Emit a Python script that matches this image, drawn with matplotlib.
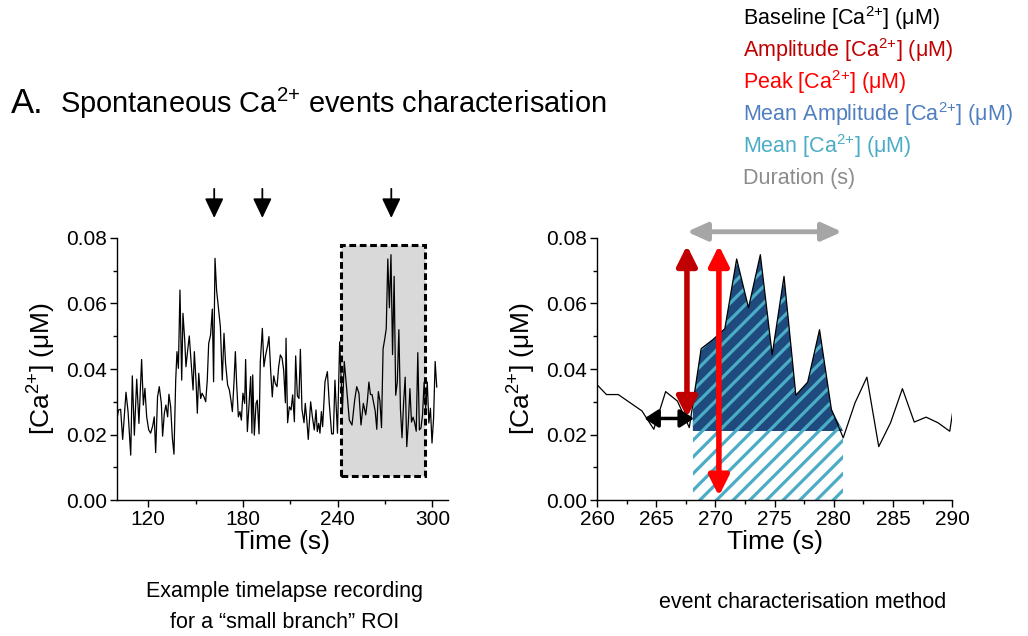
import numpy as np
import matplotlib
matplotlib.use('Agg')
import matplotlib.pyplot as plt
from matplotlib.ticker import MultipleLocator

plt.rcParams['font.family'] = ['Liberation Sans', 'DejaVu Sans']
plt.rcParams['mathtext.fontset'] = 'custom'
plt.rcParams['mathtext.rm'] = 'Liberation Sans'
plt.rcParams['mathtext.it'] = 'Liberation Sans:italic'
plt.rcParams['mathtext.bf'] = 'Liberation Sans:bold'
plt.rcParams['hatch.linewidth'] = 2.3
plt.rcParams['hatch.color'] = '#4BACC6'

# Ca2+ trace for the "small branch" ROI (time in s, concentration in uM)
time_s = [
    100.0, 101.2, 102.5, 103.8, 105.9, 107.2, 108.9, 109.9, 111.2, 112.7,
    114.1, 115.8, 116.9, 117.9, 119.0, 120.3, 121.5, 122.8, 123.8, 124.7,
    125.9, 127.0, 128.3, 129.1, 130.2, 131.2, 132.3, 133.1, 134.2, 135.3,
    136.3, 137.4, 138.2, 139.1, 140.1, 141.2, 142.0, 143.1, 143.9, 145.0,
    146.0, 147.1, 148.4, 149.2, 150.3, 151.1, 152.0, 153.2, 154.1, 155.3,
    156.4, 157.4, 158.3, 159.5, 160.6, 161.4, 162.3, 163.3, 164.6, 165.7,
    166.9, 168.0, 169.0, 170.3, 171.4, 172.4, 173.3, 174.3, 175.2, 176.0,
    177.1, 178.1, 179.0, 180.0, 181.1, 181.7, 182.8, 183.6, 184.9, 185.7,
    186.2, 187.2, 188.3, 189.1, 190.2, 191.0, 192.3, 193.3, 194.4, 195.7,
    196.5, 197.6, 198.6, 199.5, 200.5, 201.6, 202.6, 203.7, 204.8, 205.8,
    206.9, 207.3, 208.3, 209.4, 210.5, 211.5, 212.6, 213.4, 214.5, 215.5,
    216.4, 217.4, 218.7, 219.5, 220.4, 221.4, 222.9, 224.0, 225.2, 226.3,
    227.1, 228.0, 228.8, 229.7, 230.5, 232.0, 233.5, 234.7, 236.2, 237.3,
    238.3, 239.9, 241.3, 243.0, 244.2, 245.8, 247.4, 249.1, 250.8, 252.1,
    253.5, 254.8, 256.3, 257.8, 258.8, 259.8, 260.8, 261.8, 262.8, 263.8,
    264.8, 265.8, 266.8, 267.8, 268.8, 269.8, 270.8, 271.8, 272.8, 273.8,
    274.8, 275.8, 276.8, 277.8, 278.8, 279.8, 280.8, 281.8, 282.8, 283.8,
    284.8, 285.8, 286.8, 287.8, 288.8, 289.8, 290.8, 291.8, 292.8, 293.8,
    294.8, 295.8, 296.8, 297.8, 298.8, 299.8, 300.8, 301.8, 302.8,
]
ca_uM = [
    0.0244, 0.0275, 0.0277, 0.0185, 0.0329, 0.0270, 0.0137, 0.0379, 0.0198, 0.0369,
    0.0234, 0.0429, 0.0290, 0.0341, 0.0254, 0.0214, 0.0204, 0.0226, 0.0254, 0.0145,
    0.0315, 0.0346, 0.0295, 0.0195, 0.0265, 0.0290, 0.0254, 0.0323, 0.0285, 0.0188,
    0.0140, 0.0366, 0.0453, 0.0402, 0.0641, 0.0366, 0.0570, 0.0489, 0.0407, 0.0458,
    0.0501, 0.0427, 0.0336, 0.0453, 0.0361, 0.0265, 0.0387, 0.0310, 0.0326, 0.0315,
    0.0300, 0.0366, 0.0478, 0.0504, 0.0583, 0.0361, 0.0738, 0.0641, 0.0580, 0.0529,
    0.0366, 0.0509, 0.0417, 0.0351, 0.0336, 0.0305, 0.0270, 0.0356, 0.0453, 0.0356,
    0.0254, 0.0270, 0.0244, 0.0326, 0.0295, 0.0429, 0.0209, 0.0270, 0.0377, 0.0204,
    0.0382, 0.0198, 0.0295, 0.0305, 0.0202, 0.0422, 0.0524, 0.0407, 0.0443, 0.0473,
    0.0499, 0.0392, 0.0315, 0.0379, 0.0356, 0.0346, 0.0405, 0.0443, 0.0433, 0.0397,
    0.0297, 0.0494, 0.0236, 0.0285, 0.0275, 0.0321, 0.0239, 0.0440, 0.0318, 0.0310,
    0.0460, 0.0277, 0.0236, 0.0295, 0.0249, 0.0185, 0.0300, 0.0254, 0.0214, 0.0275,
    0.0209, 0.0234, 0.0204, 0.0270, 0.0224, 0.0361, 0.0392, 0.0295, 0.0202, 0.0202,
    0.0366, 0.0204, 0.0483, 0.0270, 0.0423, 0.0336, 0.0244, 0.0229, 0.0305, 0.0346,
    0.0326, 0.0229, 0.0295, 0.0260, 0.0300, 0.0360, 0.0322, 0.0322, 0.0297, 0.0272,
    0.0216, 0.0331, 0.0302, 0.0221, 0.0462, 0.0490, 0.0523, 0.0736, 0.0587, 0.0749,
    0.0444, 0.0683, 0.0320, 0.0360, 0.0520, 0.0277, 0.0190, 0.0297, 0.0375, 0.0163,
    0.0236, 0.0340, 0.0238, 0.0253, 0.0236, 0.0210, 0.0450, 0.0214, 0.0220, 0.0260,
    0.0360, 0.0280, 0.0360, 0.0235, 0.0280, 0.0174, 0.0250, 0.0423, 0.0345,
]

# detected events (arrows above left trace)
event_times = [161.8, 192.3, 274.0]

# selected window shown in the zoom panel
window_t = (242.1, 295.4)
window_ca = (0.0073, 0.0778)

# characterisation of the event in the zoom panel
event_start, event_end = 268.1, 280.8
baseline_ca = 0.021
baseline_arrow = (264.0, 268.2, 0.0249)
amplitude_arrow = (267.6, 0.0252, 0.0777)
peak_arrow = (270.3, 0.0012, 0.0777)
duration_arrow = (267.6, 280.7, 0.0819)

CA = '[Ca$^{2{+}}$]'
legend_items = [
    ('Baseline ' + CA + ' (μM)', 'black'),
    ('Amplitude ' + CA + ' (μM)', '#C00000'),
    ('Peak ' + CA + ' (μM)', '#FF0000'),
    ('Mean Amplitude ' + CA + ' (μM)', '#4F7FC0'),
    ('Mean ' + CA + ' (μM)', '#4BACC6'),
    ('Duration (s)', '#8C8C8C'),
]

t = np.array(time_s)
ca = np.array(ca_uM)

fig = plt.figure(figsize=(10.28, 6.36), dpi=100)
ax1 = fig.add_axes([0.1135, 0.2138, 0.3224, 0.412])
ax2 = fig.add_axes([0.5807, 0.2138, 0.3455, 0.412])


def style_axis(ax):
    for s in ('top', 'right'):
        ax.spines[s].set_visible(False)
    for s in ('left', 'bottom'):
        ax.spines[s].set_linewidth(1.0)
    ax.tick_params(which='major', direction='out', length=5, width=1,
                   labelsize=15, pad=2)
    ax.tick_params(which='minor', direction='out', length=3, width=1)
    ax.set_ylim(0, 0.08)
    ax.yaxis.set_major_locator(MultipleLocator(0.02))
    ax.yaxis.set_minor_locator(MultipleLocator(0.01))
    ax.yaxis.set_major_formatter(plt.FormatStrFormatter('%.2f'))
    ax.set_xlabel('Time (s)', fontsize=19, labelpad=1)
    ax.set_ylabel(CA + ' (μM)', fontsize=19, labelpad=6)


# left panel: full recording
style_axis(ax1)
ax1.set_xlim(100, 310)
ax1.xaxis.set_minor_locator(MultipleLocator(30))
ax1.set_xticks([120, 180, 240, 300])
ax1.add_patch(plt.Rectangle((window_t[0], window_ca[0]),
                            window_t[1] - window_t[0], window_ca[1] - window_ca[0],
                            facecolor='#D9D9D9', edgecolor='black', lw=2.2,
                            ls=(0, (2.2, 1.2)), zorder=1))
ax1.plot(t, ca, color='black', lw=0.9, zorder=2)
for et in event_times:
    ax1.annotate('', xy=(et, 0.0861), xytext=(et, 0.0950),
                 arrowprops=dict(arrowstyle='-|>,head_length=0.8,head_width=0.38',
                                 color='black', lw=1.3, mutation_scale=15,
                                 shrinkA=0, shrinkB=0),
                 annotation_clip=False)

# right panel: event characterisation
style_axis(ax2)
ax2.set_xlim(260, 290)
ax2.xaxis.set_major_locator(MultipleLocator(5))
ax2.xaxis.set_minor_locator(MultipleLocator(2.5))

inside = (t > event_start) & (t < event_end)
xf = np.concatenate([[event_start], t[inside], [event_end]])
yf = np.interp(xf, t, ca)
ax2.fill_between(xf, baseline_ca, np.maximum(yf, baseline_ca),
                 facecolor='#1F4A7D', edgecolor='#4BACC6', hatch='//', lw=0, zorder=1)
ax2.fill_between([event_start, event_end], 0, baseline_ca,
                 facecolor='white', edgecolor='#4BACC6', hatch='//', lw=0, zorder=1)
ax2.plot(t, ca, color='black', lw=0.9, zorder=3)


def double_arrow(ax, start, end, color, lw, hl, hw):
    ax.annotate('', xy=end, xytext=start,
                arrowprops=dict(arrowstyle='<|-|>,head_length=%s,head_width=%s' % (hl, hw),
                                color=color, lw=lw, mutation_scale=12,
                                shrinkA=0, shrinkB=0),
                annotation_clip=False, zorder=5)


double_arrow(ax2, (duration_arrow[0], duration_arrow[2]),
             (duration_arrow[1], duration_arrow[2]), '#A6A6A6', 3.5, 1.0, 0.45)
double_arrow(ax2, (amplitude_arrow[0], amplitude_arrow[1]),
             (amplitude_arrow[0], amplitude_arrow[2]), '#C00000', 4, 1.0, 0.5)
double_arrow(ax2, (peak_arrow[0], peak_arrow[1]),
             (peak_arrow[0], peak_arrow[2]), '#FF0000', 4, 1.0, 0.5)
double_arrow(ax2, (baseline_arrow[0], baseline_arrow[2]),
             (baseline_arrow[1], baseline_arrow[2]), 'black', 2.5, 0.7, 0.45)

# title and labels
fig.text(0.011, 0.822, 'A.', fontsize=25, va='baseline')
fig.text(0.058, 0.822, 'Spontaneous Ca$^{2{+}}$ events characterisation',
         fontsize=20.9, va='baseline')

for i, (label, col) in enumerate(legend_items):
    fig.text(0.7228, 1 - (18 + 32 * i) / 636, label, color=col,
             fontsize=15.5, va='center')

fig.text(285 / 1028, 1 - 592 / 636, 'Example timelapse recording',
         fontsize=15.5, ha='center', va='center')
fig.text(285 / 1028, 1 - 622 / 636, 'for a \u201csmall branch\u201d ROI',
         fontsize=15.5, ha='center', va='center')
fig.text(803 / 1028, 1 - 603 / 636, 'event characterisation method',
         fontsize=15.5, ha='center', va='center')

fig.savefig('out.png', dpi=100)
